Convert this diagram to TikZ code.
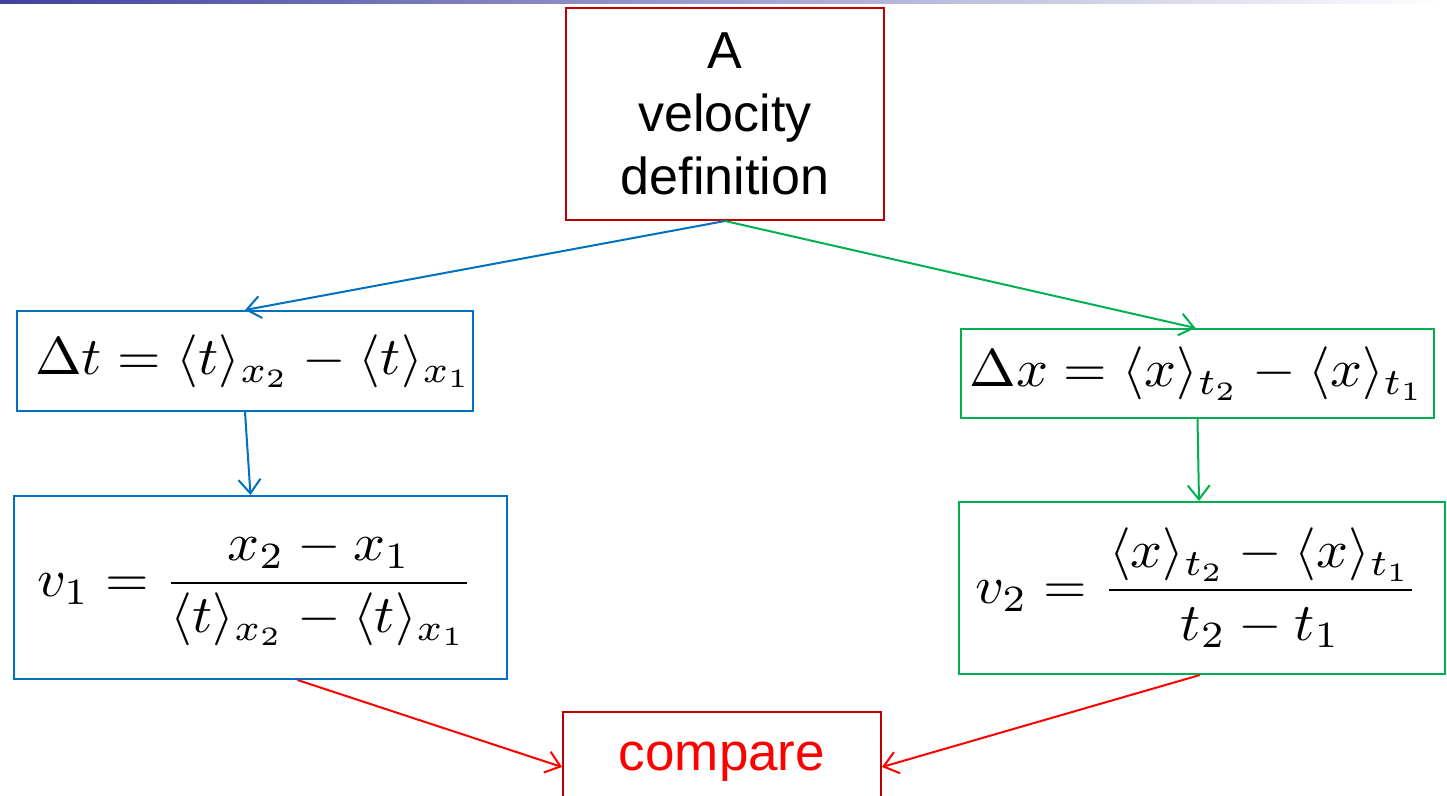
\RequirePackage{fix-cm}
\documentclass[tikz,border=0pt]{standalone}
\usepackage{graphicx}
\usepackage{fontspec}
\setsansfont{Liberation Sans}
\usetikzlibrary{arrows.meta}
\definecolor{boxred}{RGB}{192,0,0}
\definecolor{arrred}{RGB}{255,0,0}
\definecolor{boxblue}{RGB}{0,112,192}
\definecolor{boxgreen}{RGB}{0,176,80}
\definecolor{barblue}{RGB}{64,64,160}
\newcommand{\bigmath}[1]{\scalebox{5.6}[5.3]{$\displaystyle #1$}}
\begin{document}
\begin{tikzpicture}[x=1pt,y=-1pt,
  box/.style={draw,line width=2pt,inner sep=0pt,align=center},
  link/.style={line width=2pt,-{Straight Barb[length=14pt,width=22pt,line width=2pt]}}]
\useasboundingbox (0,0) rectangle (1447,795);
\clip (0,0) rectangle (1447,795);
\shade[left color=barblue,right color=white] (0,0) rectangle (1447,3);
% boxes
\node[box,draw=boxred,minimum width=318pt,minimum height=212pt,
  font=\sffamily\fontsize{52}{63}\selectfont] (def) at (725,114) {A\\velocity\\definition};
\node[box,draw=boxblue,minimum width=454pt,minimum height=100pt] (dt) at (245,361)
  {\hspace*{18pt}\bigmath{\Delta t = \langle t\rangle_{x_2} - \langle t\rangle_{x_1}}};
\node[box,draw=boxgreen,minimum width=473pt,minimum height=89pt] (dx) at (1197.5,373.5)
  {\bigmath{\Delta x = \langle x\rangle_{t_2} - \langle x\rangle_{t_1}}};
\node[box,draw=boxblue,minimum width=493pt,minimum height=183pt] (v1) at (260.5,587.5)
  {\bigmath{v_1 = \frac{x_2 - x_1}{\langle t\rangle_{x_2} - \langle t\rangle_{x_1}}}\hspace*{10pt}};
\node[box,draw=boxgreen,minimum width=486pt,minimum height=172pt] (v2) at (1202,588)
  {\bigmath{v_2 = \frac{\langle x\rangle_{t_2} - \langle x\rangle_{t_1}}{t_2 - t_1}}\hspace*{10pt}};
\node[box,draw=boxred,minimum width=318pt,minimum height=100pt,text=arrred,
  font=\sffamily\fontsize{53}{63}\selectfont] (cmp) at (722,762) {compare};
% links
\draw[link,boxblue] (def.south) -- (dt.north);
\draw[link,boxgreen] (def.south) -- ([xshift=-2pt]dx.north);
\draw[link,boxblue] (dt.south) -- ([xshift=-10pt]v1.north);
\draw[link,boxgreen] (dx.south) -- ([xshift=-3pt]v2.north);
\draw[link,arrred] ([xshift=37pt]v1.south) -- ([yshift=-5pt]cmp.west);
\draw[link,arrred] ([xshift=-2pt]v2.south) -- ([yshift=-5pt]cmp.east);
\end{tikzpicture}
\end{document}
